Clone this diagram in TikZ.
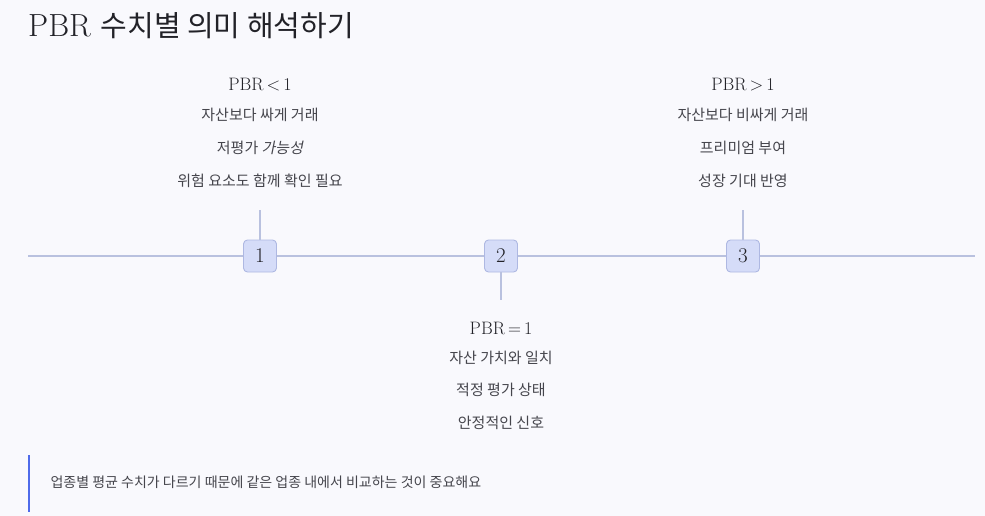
\documentclass[tikz,border=0pt]{standalone}
\usepackage{fontspec}
\usepackage{tikz}
\usetikzlibrary{positioning, calc}
\newfontfamily\kr{Noto Sans CJK KR}
\newfontfamily\krit{Noto Sans CJK KR}[FakeSlant=0.2]
\definecolor{bgcol}{HTML}{F9F9FD}
\definecolor{linecol}{HTML}{B9C1DF}
\definecolor{boxfill}{HTML}{D5DCF8}
\definecolor{boxline}{HTML}{AEB8E2}
\definecolor{txtcol}{HTML}{45454C}
\definecolor{headcol}{HTML}{222228}
\definecolor{notebar}{HTML}{4F6BEA}

\begin{document}
\begin{tikzpicture}[
			x=1pt, y=-1pt,
			stepbox/.style={draw=boxline, fill=boxfill, rounded corners=4pt, line width=0.9pt,
				minimum width=33pt, minimum height=32pt, inner sep=0pt,
				font=\fontsize{21}{21}\selectfont, text=headcol},
			head/.style={font=\fontsize{18}{20}\selectfont, text=headcol},
			desc/.style={font=\kr\fontsize{15}{17}\selectfont, text=txtcol},
			axis/.style={draw=linecol, line width=1.4pt}
			]
			% background
			\fill[bgcol] (0,0) rectangle (985,516);
			% title
			\node[anchor=west, inner sep=0pt, text=headcol] (title) at (28,26)
				{\fontsize{32}{34}\selectfont PBR {\kr\fontsize{29}{34}\selectfont 수치별 의미 해석하기}};
			% timeline
			\coordinate (start) at (28,256);
			\coordinate (end) at (975,256);
			\draw[axis] (start) -- (end);
			\coordinate (top1) at (260,210);
			\coordinate (bot2) at (501,300);
			\coordinate (top3) at (743,210);
			\node[stepbox] (box1) at (260,256) {1};
			\node[stepbox] (box2) at (501,256) {2};
			\node[stepbox] (box3) at (743,256) {3};
			\draw[axis] (box1.north) -- (top1);
			\draw[axis] (box2.south) -- (bot2);
			\draw[axis] (box3.north) -- (top3);
			% PBR < 1
			\node[head] (lbl1) at (260,85) {PBR\,<\,1};
			\node[desc] (lbl1a) at (260,115) {자산보다 싸게 거래};
			\node[desc] (lbl1b) at (260,148) {저평가 {\krit 가능성}};
			\node[desc] (lbl1c) at (260,181) {위험 요소도 함께 확인 필요};
			% PBR = 1
			\node[head] (lbl2) at (501,328) {PBR\,=\,1};
			\node[desc] (lbl2a) at (501,358) {자산 가치와 일치};
			\node[desc] (lbl2b) at (501,390) {적정 평가 상태};
			\node[desc] (lbl2c) at (501,423) {안정적인 신호};
			% PBR > 1
			\node[head] (lbl3) at (743,85) {PBR\,>\,1};
			\node[desc] (lbl3a) at (743,115) {자산보다 비싸게 거래};
			\node[desc] (lbl3b) at (743,148) {프리미엄 부여};
			\node[desc] (lbl3c) at (743,181) {성장 기대 반영};
			% note
			\coordinate (bartop) at (29,455);
			\coordinate (barbot) at (29,512);
			\draw[notebar, line width=2pt] (bartop) -- (barbot);
			\node[desc, anchor=west, font=\kr\fontsize{14}{16}\selectfont] (note) at (47,482)
				{업종별 평균 수치가 다르기 때문에 같은 업종 내에서 비교하는 것이 중요해요};
		\end{tikzpicture}
\end{document}
